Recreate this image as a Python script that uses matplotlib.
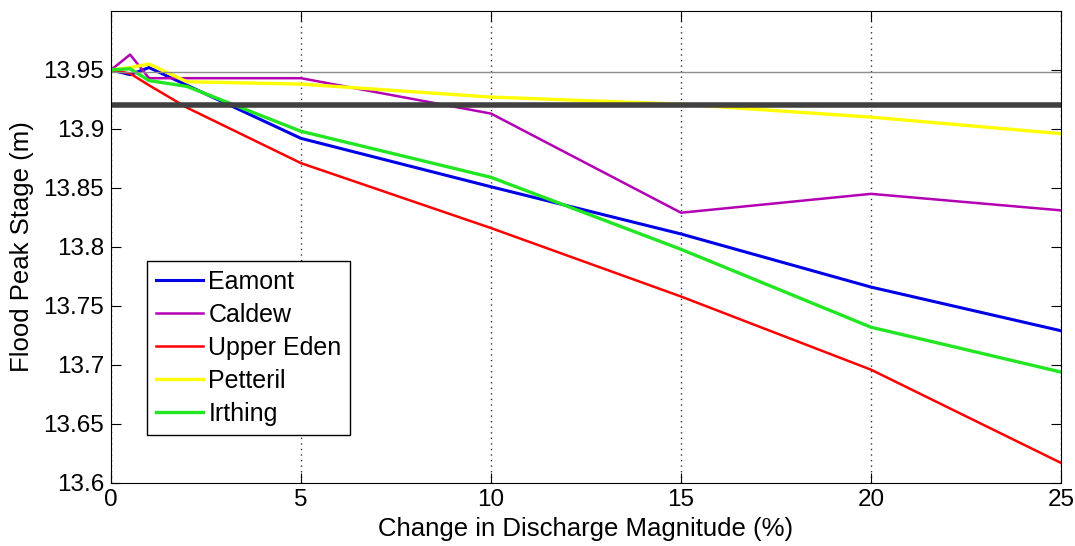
import matplotlib
matplotlib.use('Agg')
import matplotlib.pyplot as plt

# Change in discharge magnitude (%)
vX = [0, 0.5, 1, 2, 5, 10, 15, 20, 25]

# Flood peak stage (m) for each catchment
vEamont = [13.950, 13.946, 13.952, 13.937, 13.892, 13.851, 13.811, 13.766, 13.729]
vCaldew = [13.950, 13.963, 13.943, 13.943, 13.943, 13.913, 13.829, 13.845, 13.831]
vUpperEden = [13.950, 13.947, 13.937, 13.918, 13.871, 13.816, 13.758, 13.696, 13.617]
vPetteril = [13.950, 13.952, 13.955, 13.940, 13.938, 13.927, 13.921, 13.910, 13.896]
vIrthing = [13.950, 13.951, 13.941, 13.936, 13.898, 13.859, 13.798, 13.732, 13.694]

lNames = ['Eamont', 'Caldew', 'Upper Eden', 'Petteril', 'Irthing']

# Reference levels
fBaseline = 13.948
fThreshold = 13.92

vXTicks = [0, 5, 10, 15, 20, 25]
vYTicks = [13.6, 13.65, 13.7, 13.75, 13.8, 13.85, 13.9, 13.95]
lYTickLabels = ['13.6', '13.65', '13.7', '13.75', '13.8', '13.85', '13.9', '13.95']

plt.rcParams['font.family'] = ['Liberation Sans', 'DejaVu Sans']

hFig = plt.figure(figsize=(10.75, 5.46), dpi=100)
hAx = hFig.add_axes([0.1033, 0.1154, 0.8837, 0.8646])

lSeries = [vEamont, vCaldew, vUpperEden, vPetteril, vIrthing]
lColors = ['#0000e6', '#b400b4', '#ff0000', '#ffff00', '#22e622']
lWidths = [2.2, 1.8, 1.8, 2.4, 2.4]
for vY, sName, sCol, fW in zip(lSeries, lNames, lColors, lWidths):
    hAx.plot(vX, vY, '-', color=sCol, linewidth=fW, label=sName)

hAx.axhline(fBaseline, color='#8c8c8c', linewidth=1.0)
hAx.axhline(fThreshold, color='#404040', linewidth=4.0)

hAx.set_xlim(0, 25)
hAx.set_ylim(13.6, 14.0)
hAx.set_xticks(vXTicks)
hAx.set_yticks(vYTicks)
hAx.set_yticklabels(lYTickLabels)
hAx.xaxis.grid(True, linestyle=(0, (1, 3)), color='#333333', linewidth=1.0)
hAx.tick_params(direction='in', top=True, right=True, labelsize=17.5, length=7)
hAx.tick_params(axis='y', pad=5)
hAx.tick_params(axis='x', pad=4)

hAx.set_xlabel('Change in Discharge Magnitude (%)', fontsize=18.5)
hAx.set_ylabel('Flood Peak Stage (m)', fontsize=18.5)
hAx.xaxis.set_label_coords(0.5, -0.072)
hAx.yaxis.set_label_coords(-0.081, 0.5)

hLeg = hAx.legend(loc='upper left', bbox_to_anchor=(0.038, 0.470), fontsize=18,
                  fancybox=False, edgecolor='black', framealpha=1.0,
                  handlelength=1.9, handletextpad=0.2, labelspacing=0.36,
                  borderpad=0.35, borderaxespad=0.0)
hLeg.get_frame().set_linewidth(1.0)

hFig.savefig('out.png', dpi=100)
